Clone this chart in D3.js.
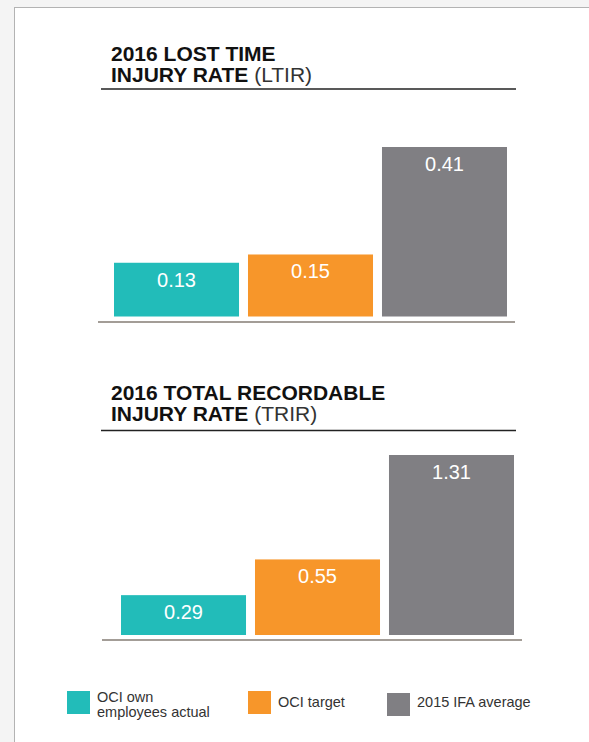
<!DOCTYPE html>
<html>
<head>
<meta charset="utf-8">
<script src="https://cdn.jsdelivr.net/npm/d3@7"></script>
<style>
  body { margin: 0; background: #f4f4f4; }
  text { font-family: "Liberation Sans", Arial, Helvetica, sans-serif; }
</style>
</head>
<body>
<div id="chart"></div>
<script>
// categories shared by both panels
var categories = ["OCI own employees actual", "OCI target", "2015 IFA average"];
var colors = ["#22bcb9", "#f7962a", "#807f83"];

// LTIR values
var ltirValues = [0.13, 0.15, 0.41];
// TRIR values
var trirValues = [0.29, 0.55, 1.31];

var legendLines = [["OCI own", "employees actual"], ["OCI target"], ["2015 IFA average"]];

var W = 589, H = 742;

var svg = d3.select("#chart").append("svg")
    .attr("width", W)
    .attr("height", H);

// white page panel
svg.append("rect")
    .attr("x", 14.5).attr("y", 7.5)
    .attr("width", W + 10).attr("height", H + 10)
    .attr("fill", "#fff")
    .attr("stroke", "#b3b3b3")
    .attr("stroke-width", 1);

function panel(opt) {
    var g = svg.append("g");

    // title, two lines
    g.append("text")
        .attr("x", 111).attr("y", opt.titleY)
        .style("font-size", "21px").style("font-weight", "bold")
        .attr("fill", "#111")
        .text(opt.title1);
    var t2 = g.append("text")
        .attr("x", 111).attr("y", opt.titleY + 21)
        .style("font-size", "21px")
        .attr("fill", "#111");
    t2.append("tspan").style("font-weight", "bold").text(opt.title2);
    t2.append("tspan").style("font-weight", "normal").attr("fill", "#333").text(" " + opt.abbr);

    g.append("line")
        .attr("x1", 101).attr("x2", 516)
        .attr("y1", opt.ruleY).attr("y2", opt.ruleY)
        .attr("stroke", "#222").attr("stroke-width", 1.5);

    var x = d3.scaleBand()
        .domain(categories)
        .range(opt.xRange)
        .paddingInner(0.067)
        .paddingOuter(0);

    var y = d3.scaleLinear()
        .domain([0, d3.max(opt.values)])
        .range(opt.yRange);

    g.selectAll(".bar")
        .data(opt.values)
        .enter().append("rect")
        .attr("class", "bar")
        .attr("x", function (d, i) { return x(categories[i]); })
        .attr("width", x.bandwidth())
        .attr("y", function (d) { return y(d); })
        .attr("height", function (d) { return y(0) - y(d); })
        .attr("fill", function (d, i) { return colors[i]; });

    g.selectAll(".lbl")
        .data(opt.values)
        .enter().append("text")
        .attr("class", "lbl")
        .attr("x", function (d, i) { return x(categories[i]) + x.bandwidth() / 2; })
        .attr("y", function (d) { return y(d) + 24; })
        .attr("text-anchor", "middle")
        .attr("fill", "#fff")
        .style("font-size", "20px")
        .text(function (d) { return d.toFixed(2); });

    // baseline under the bars
    g.append("line")
        .attr("x1", opt.baseX[0]).attr("x2", opt.baseX[1])
        .attr("y1", opt.baseY).attr("y2", opt.baseY)
        .attr("stroke", "#a39d97").attr("stroke-width", 2);
}

panel({
    title1: "2016 LOST TIME", title2: "INJURY RATE", abbr: "(LTIR)",
    titleY: 61, ruleY: 89,
    values: ltirValues,
    xRange: [114, 507], yRange: [316.5, 147],
    baseX: [98, 515], baseY: 322
});

panel({
    title1: "2016 TOTAL RECORDABLE", title2: "INJURY RATE", abbr: "(TRIR)",
    titleY: 400, ruleY: 430.5,
    values: trirValues,
    xRange: [121, 514], yRange: [635, 455],
    baseX: [102, 522], baseY: 640
});

// legend
var legX = [67, 248, 387];
var legY = [691, 691, 693];
var leg = svg.append("g");
categories.forEach(function (c, i) {
    leg.append("rect")
        .attr("x", legX[i]).attr("y", legY[i])
        .attr("width", 23).attr("height", 23)
        .attr("fill", colors[i]);
    var lines = legendLines[i];
    var t = leg.append("text")
        .attr("fill", "#333")
        .style("font-size", "14.5px");
    lines.forEach(function (s, j) {
        var by = lines.length === 1 ? 707 : 701.5 + j * 15;
        t.append("tspan")
            .attr("x", legX[i] + 30)
            .attr("y", by)
            .text(s);
    });
});
</script>
</body>
</html>
